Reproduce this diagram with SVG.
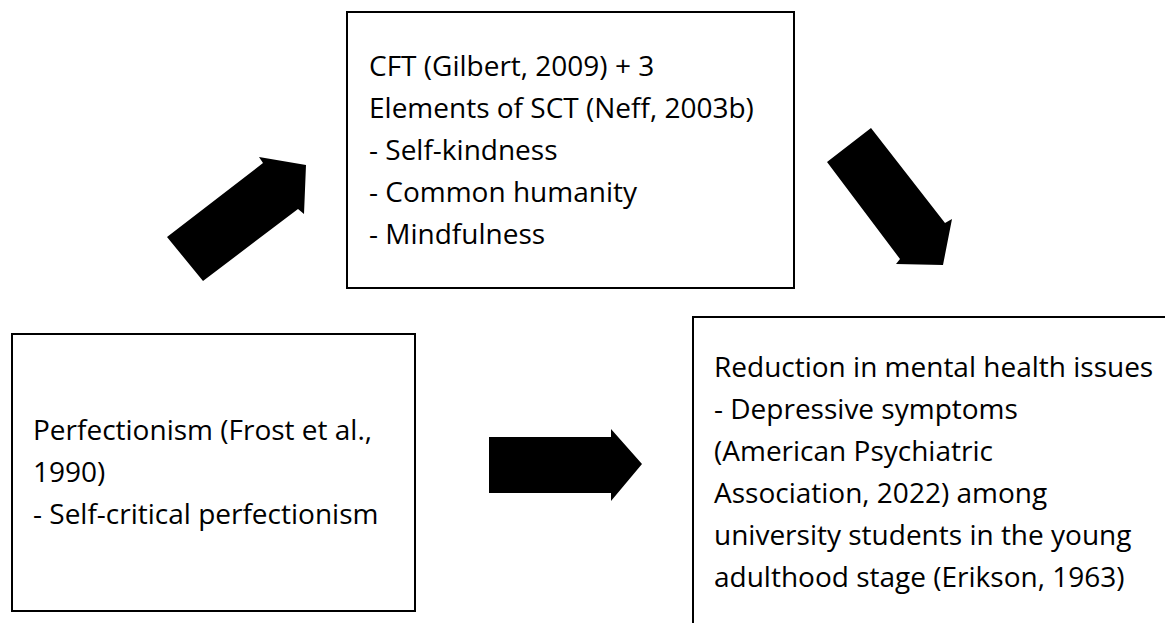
<svg xmlns="http://www.w3.org/2000/svg" width="1165" height="623" viewBox="0 0 1165 623">
<style>
.box{fill:#fff;stroke:#000;stroke-width:2}
.t{font-family:"Open Sans","Liberation Sans",sans-serif;font-size:28px;fill:#000}
.arr{fill:#000;stroke:none}
</style>
<rect width="1165" height="623" fill="#fff"/>
<g id="node-cft">
<rect class="box" x="347" y="12" width="447" height="276"/>
<text class="t" x="369" y="76">CFT (Gilbert, 2009) + 3</text>
<text class="t" x="369" y="118">Elements of SCT (Neff, 2003b)</text>
<text class="t" x="369" y="160">- Self-kindness</text>
<text class="t" x="369" y="202">- Common humanity</text>
<text class="t" x="369" y="244">- Mindfulness</text>
</g>
<g id="node-perfectionism">
<rect class="box" x="12" y="334" width="403" height="277"/>
<text class="t" x="33" y="440">Perfectionism (Frost et al.,</text>
<text class="t" x="33" y="482">1990)</text>
<text class="t" x="33" y="524">- Self-critical perfectionism</text>
</g>
<g id="node-reduction">
<rect class="box" x="693" y="317" width="480" height="320"/>
<text class="t" x="714" y="377">Reduction in mental health issues</text>
<text class="t" x="714" y="419">- Depressive symptoms</text>
<text class="t" x="714" y="461">(American Psychiatric</text>
<text class="t" x="714" y="503">Association, 2022) among</text>
<text class="t" x="714" y="545">university students in the young</text>
<text class="t" x="714" y="587">adulthood stage (Erikson, 1963)</text>
</g>
<g id="connectors">
<polygon class="arr" points="167,237 263,163 259,157 306,165 304,214 298,209 203,281"/>
<polygon class="arr" points="827,162 871,128 945,223 952,219 943,265 896,264 900,259"/>
<polygon class="arr" points="489,437 611,437 611,429 642,464 611,501 611,493 489,493"/>
</g>
</svg>
